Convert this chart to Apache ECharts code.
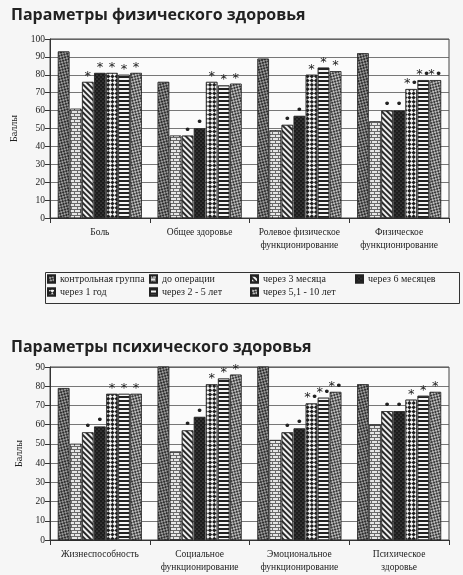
<!DOCTYPE html>
<html>
<head>
<meta charset="utf-8">
<script src="https://cdn.jsdelivr.net/npm/echarts@6/dist/echarts.min.js"></script>
<style>
  html, body { margin: 0; padding: 0; background: #f6f6f6; }
  #chart { width: 463px; height: 575px; }
</style>
</head>
<body>
<div id="chart"></div>
<script>
// категории
var physCategories = ['Боль', 'Общее здоровье', 'Ролевое физическое\nфункционирование', 'Физическое\nфункционирование'];
var mentCategories = ['Жизнеспособность', 'Социальное\nфункционирование', 'Эмоциональное\nфункционирование', 'Психическое\nздоровье'];
var groupNames = ['контрольная группа', 'до операции', 'через 3 месяца', 'через 6 месяцев', 'через 1 год', 'через 2 - 5 лет', 'через 5,1 - 10 лет'];

// физическое здоровье, по группам
var physControl = [93, 76, 89, 92];
var physBefore  = [61, 46, 49, 54];
var phys3m      = [76, 46, 52, 60];
var phys6m      = [81, 50, 57, 60];
var phys1y      = [81, 76, 80, 72];
var phys2to5    = [80, 74, 84, 77];
var phys5to10   = [81, 75, 82, 77];

// психическое здоровье, по группам
var mentControl = [79, 93, 92, 81];
var mentBefore  = [50, 46, 52, 60];
var ment3m      = [56, 57, 56, 67];
var ment6m      = [59, 64, 58, 67];
var ment1y      = [76, 81, 71, 73];
var ment2to5    = [76, 84, 74, 75];
var ment5to10   = [76, 86, 77, 77];

// значки достоверности над столбиками
var physMarks = [
  ['', '', '', ''], ['', '', '', ''],
  ['*', '•', '•', '•'], ['*', '•', '•', '•'],
  ['*', '*', '*', '*•'], ['*', '*', '*', '*•'], ['*', '*', '*', '*•']
];
var mentMarks = [
  ['', '', '', ''], ['', '', '', ''],
  ['•', '•', '•', '•'], ['•', '•', '•', '•'],
  ['*', '*', '*•', '*'], ['*', '*', '*•', '*'], ['*', '*', '*•', '*']
];

var physTicks = [0, 10, 20, 30, 40, 50, 60, 70, 80, 90, 100];
var mentTicks = [0, 10, 20, 30, 40, 50, 60, 70, 80, 90];

var physData = [physControl, physBefore, phys3m, phys6m, phys1y, phys2to5, phys5to10];
var mentData = [mentControl, mentBefore, ment3m, ment6m, ment1y, ment2to5, ment5to10];

// штриховки (как в ч/б оригинале)
var styles = [
  { color: '#2e2e2e', decal: { symbol: 'circle', symbolSize: 0.9, color: '#cfcfcf', dashArrayX: [[2, 2], [0, 2, 2, 0]], dashArrayY: [2, 0] } },
  { color: '#6a6a6a', decal: { symbol: 'rect', symbolSize: 1, color: '#e6e6e6', dashArrayX: [[5, 1], [2, 1, 3, 0]], dashArrayY: [2, 1] } },
  { color: '#f2f2f2', decal: { symbol: 'rect', symbolSize: 1, color: '#2a2a2a', dashArrayX: [1, 0], dashArrayY: [1.5, 2], rotation: Math.PI / 4 } },
  { color: '#1c1c1c', decal: { symbol: 'circle', symbolSize: 0.6, color: '#777', dashArrayX: [[2, 2], [0, 2, 2, 0]], dashArrayY: [2, 0] } },
  { color: '#f4f4f4', decal: { symbol: 'rect', symbolSize: 1, color: '#1e1e1e', dashArrayX: [[3, 3], [0, 3, 3, 0]], dashArrayY: [3, 0] } },
  { color: '#f4f4f4', decal: { symbol: 'rect', symbolSize: 1, color: '#222', dashArrayX: [1, 0], dashArrayY: [1.5, 1.5] } },
  { color: '#3a3a3a', decal: { symbol: 'rect', symbolSize: 1, color: '#bdbdbd', dashArrayX: [[1.5, 1.5], [0, 1.5, 1.5, 0]], dashArrayY: [1.5, 0] } }
];

var serifFont = 'Liberation Serif';

function makeSeries(dataArr, marks, idx) {
  return dataArr.map(function(vals, i) {
    return {
      name: groupNames[i],
      type: 'bar',
      xAxisIndex: idx,
      yAxisIndex: idx,
      data: vals,
      clip: true,
      barGap: '6%',
      barCategoryGap: '16%',
      itemStyle: {
        color: styles[i].color,
        decal: styles[i].decal,
        borderColor: '#222',
        borderWidth: 0.6
      },
      label: {
        show: true,
        position: 'top',
        distance: -1,
        fontSize: 13,
        color: '#222',
        fontFamily: 'DejaVu Sans',
        formatter: function(p) { return marks[i][p.dataIndex]; }
      }
    };
  });
}

function makeX(cats, idx) {
  return {
    type: 'category',
    gridIndex: idx,
    data: cats,
    axisLine: { lineStyle: { color: '#333' } },
    axisTick: { show: true, alignWithLabel: false, lineStyle: { color: '#333' } },
    axisLabel: { interval: 0, color: '#222', fontSize: 9.5, fontFamily: serifFont, lineHeight: 13, margin: 8 }
  };
}

function makeY(ticks, idx) {
  return {
    type: 'value',
    gridIndex: idx,
    min: ticks[0],
    max: ticks[ticks.length - 1],
    interval: ticks[1] - ticks[0],
    name: 'Баллы',
    nameLocation: 'middle',
    nameRotate: 90,
    nameGap: 26,
    nameTextStyle: { color: '#222', fontSize: 10, fontFamily: serifFont },
    axisLine: { show: true, lineStyle: { color: '#333' } },
    axisTick: { show: true, lineStyle: { color: '#333' } },
    axisLabel: { color: '#222', fontSize: 9.5, fontFamily: serifFont, margin: 5 },
    splitLine: { lineStyle: { color: '#555', width: 0.8 } }
  };
}

var legendText = { color: '#222', fontSize: 10, fontFamily: serifFont };
function makeLegend(left, names) {
  return {
    orient: 'vertical',
    left: left,
    top: 274,
    padding: 0,
    icon: 'rect',
    itemWidth: 7,
    itemHeight: 7,
    itemGap: 3,
    textStyle: legendText,
    data: names
  };
}

var option = {
  backgroundColor: '#f6f6f6',
  animation: false,
  aria: { enabled: true, decal: { show: true } },
  title: [
    { text: 'Параметры физического здоровья', left: 6, top: 2,
      textStyle: { fontFamily: 'Open Sans', fontWeight: 'bold', fontSize: 16, color: '#222' } },
    { text: 'Параметры психического здоровья', left: 6, top: 334,
      textStyle: { fontFamily: 'Open Sans', fontWeight: 'bold', fontSize: 16, color: '#222' } }
  ],
  grid: [
    { left: 50, right: 14, top: 39, height: 179, show: true, borderColor: '#444', backgroundColor: '#fbfbfb' },
    { left: 50, right: 14, top: 367, height: 173, show: true, borderColor: '#444', backgroundColor: '#fbfbfb' }
  ],
  legend: [
    makeLegend(47, [groupNames[0], groupNames[4]]),
    makeLegend(149, [groupNames[1], groupNames[5]]),
    makeLegend(250, [groupNames[2], groupNames[6]]),
    makeLegend(355, [groupNames[3]])
  ],
  graphic: [
    { type: 'rect', left: 43, top: 270, shape: { width: 414, height: 31 },
      style: { fill: 'none', stroke: '#333', lineWidth: 1 } }
  ],
  xAxis: [makeX(physCategories, 0), makeX(mentCategories, 1)],
  yAxis: [makeY(physTicks, 0), makeY(mentTicks, 1)],
  series: makeSeries(physData, physMarks, 0).concat(makeSeries(mentData, mentMarks, 1))
};

var chart = echarts.init(document.getElementById('chart'));
chart.setOption(option);
</script>
</body>
</html>
